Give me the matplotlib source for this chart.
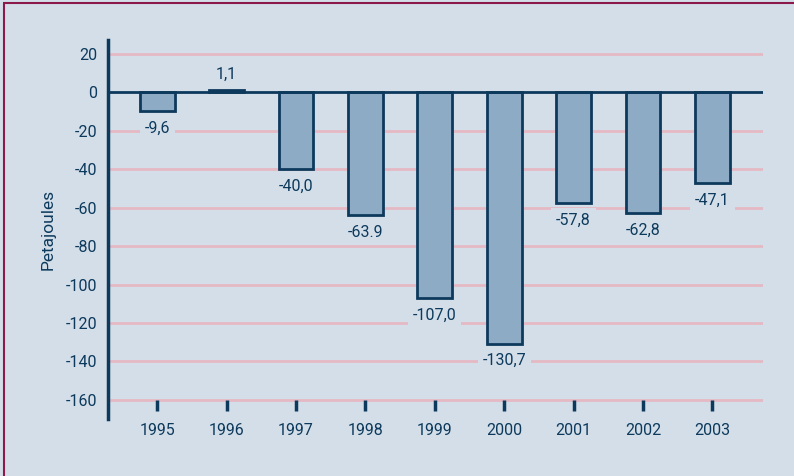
import matplotlib.pyplot as plt
from matplotlib.patches import Rectangle

years = ["1995", "1996", "1997", "1998", "1999", "2000", "2001", "2002", "2003"]
values = [-9.6, 1.1, -40.0, -63.9, -107.0, -130.7, -57.8, -62.8, -47.1]
value_labels = ["-9,6", "1,1", "-40,0", "-63.9", "-107,0", "-130,7", "-57,8", "-62,8", "-47,1"]
y_ticks = [20, 0, -20, -40, -60, -80, -100, -120, -140, -160]

bg = "#d3dee9"
navy = "#0d3a5c"
bar_fill = "#8eabc5"
grid_pink = "#e4b9c4"

plt.rcParams["font.family"] = ["Liberation Sans Narrow", "Roboto", "DejaVu Sans"]

fig = plt.figure(figsize=(7.94, 4.76), dpi=100, facecolor=bg)
ax = fig.add_axes([108 / 794, 1 - 419 / 476, (763 - 108) / 794, (419 - 40) / 476])
ax.set_facecolor(bg)

# frame round the figure (only top and left edges are visible in the original)
fig.patches.append(Rectangle((4 / 794, -0.1), 1.2, 1 - 3 / 476 + 0.1,
                             transform=fig.transFigure, fill=False,
                             edgecolor="#8b1a4a", linewidth=1.5, zorder=10))

x = list(range(len(years)))

# pink gridlines
for t in y_ticks:
    if t != 0:
        ax.axhline(t, color=grid_pink, linewidth=2, zorder=0)

ax.bar(x, values, width=0.5, color=bar_fill, edgecolor=navy, linewidth=2, zorder=3)
ax.axhline(0, color=navy, linewidth=2, zorder=4)

for xi, v, lab in zip(x, values, value_labels):
    if v < 0:
        ax.annotate(lab, (xi, v), xytext=(0, -7), textcoords="offset points",
                    ha="center", va="top", fontsize=11.5, color=navy, zorder=5,
                    bbox=dict(boxstyle="square,pad=0.3", facecolor=bg, edgecolor="none"))
    else:
        ax.annotate(lab, (xi, v), xytext=(0, 6), textcoords="offset points",
                    ha="center", va="bottom", fontsize=11.5, color=navy, zorder=5)

ax.set_xlim(-0.71, 8.73)
ax.set_ylim(-170, 27.3)

ax.set_yticks(y_ticks)
ax.set_yticklabels([str(t) for t in y_ticks])
ax.tick_params(axis="y", length=0, pad=8, labelsize=11.5, labelcolor=navy)

ax.spines["bottom"].set_position(("data", -160))
ax.spines["bottom"].set_visible(False)
ax.set_xticks(x)
ax.set_xticklabels(years)
ax.tick_params(axis="x", direction="out", length=8, width=2.5, color=navy,
               pad=9, labelsize=11.5, labelcolor=navy)

for s in ["top", "right"]:
    ax.spines[s].set_visible(False)
ax.spines["left"].set_color(navy)
ax.spines["left"].set_linewidth(2.5)

ax.set_ylabel("Petajoules", fontsize=12.5, color=navy, labelpad=7)

fig.savefig("out.png", dpi=100, facecolor=bg)
